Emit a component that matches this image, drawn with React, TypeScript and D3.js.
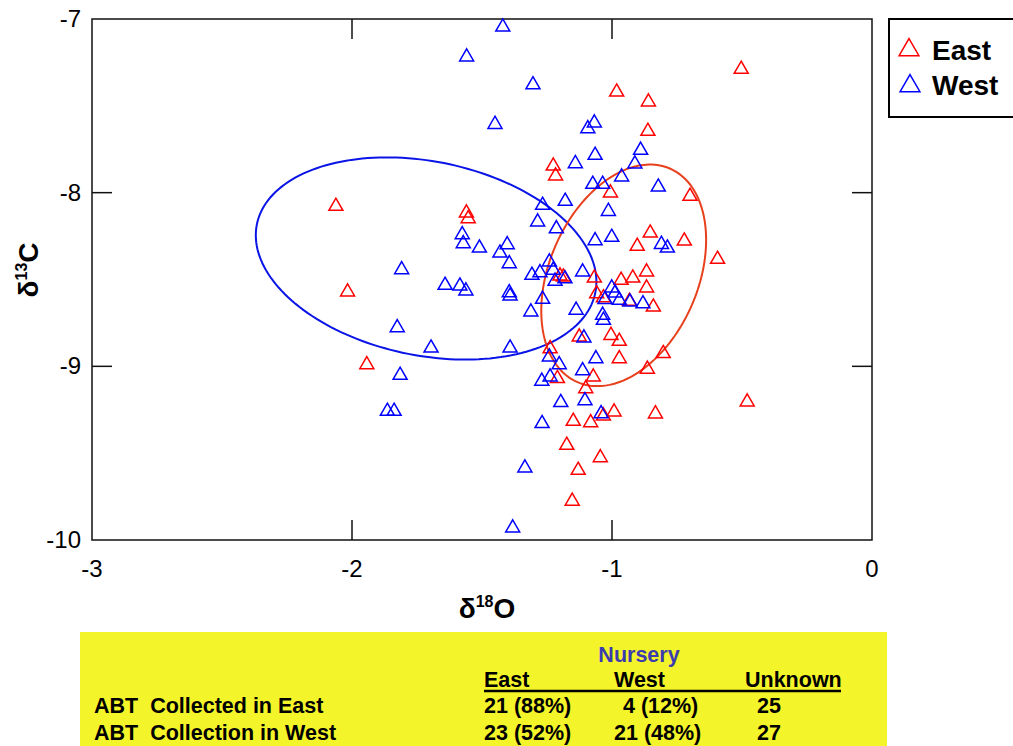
import React from "react";
import * as d3 from "d3";

// East (red) samples: [d18O, d13C]
const eastPoints: [number, number][] = [
  [-2.062, -8.067], [-1.560, -8.105], [-1.553, -8.138], [-2.017, -8.56], [-1.943, -8.979],
  [-0.982, -7.409], [-0.86, -7.466], [-0.503, -7.278], [-0.862, -7.635], [-1.226, -7.835],
  [-1.217, -7.892], [-1.006, -7.99], [-0.7, -8.009], [-0.853, -8.221], [-0.903, -8.297],
  [-0.722, -8.267], [-0.594, -8.372], [-1.2, -8.468], [-1.187, -8.474], [-1.068, -8.48],
  [-0.965, -8.493], [-0.92, -8.48], [-0.867, -8.445], [-0.867, -8.537], [-1.059, -8.57],
  [-1.033, -8.594], [-0.933, -8.614], [-0.841, -8.647], [-1.126, -8.819], [-1.004, -8.81],
  [-0.972, -8.844], [-0.972, -8.944], [-0.803, -8.915], [-0.864, -9.005], [-1.238, -8.887],
  [-1.21, -9.059], [-1.072, -9.049], [-1.101, -9.117], [-1.033, -9.274], [-0.992, -9.251],
  [-1.149, -9.305], [-1.082, -9.313], [-0.833, -9.262], [-0.48, -9.193], [-1.174, -9.443],
  [-1.045, -9.514], [-1.13, -9.587], [-1.153, -9.765],
];

// West (blue) samples
const westPoints: [number, number][] = [
  [-1.559, -7.207], [-1.42, -7.035], [-1.304, -7.367], [-1.45, -7.595], [-1.068, -7.587],
  [-1.093, -7.62], [-1.065, -7.773], [-0.89, -7.744], [-0.912, -7.823], [-1.141, -7.821],
  [-0.963, -7.898], [-1.074, -7.94], [-1.036, -7.94], [-0.822, -7.956], [-1.014, -8.096],
  [-1.18, -8.038], [-1.267, -8.061], [-1.286, -8.157], [-1.214, -8.196], [-1.576, -8.23],
  [-1.572, -8.282], [-1.51, -8.307], [-1.403, -8.288], [-1.431, -8.336], [-1.395, -8.397],
  [-1.065, -8.265], [-1.001, -8.245], [-0.81, -8.286], [-0.787, -8.307], [-1.809, -8.432],
  [-1.642, -8.522], [-1.585, -8.526], [-1.562, -8.554], [-1.395, -8.564], [-1.392, -8.583],
  [-1.308, -8.464], [-1.277, -8.449], [-1.241, -8.387], [-1.226, -8.435], [-1.219, -8.498],
  [-1.181, -8.484], [-1.113, -8.445], [-1.267, -8.602], [-1.312, -8.675], [-1.138, -8.665],
  [-1.001, -8.537], [-0.988, -8.566], [-1.027, -8.604], [-0.972, -8.608], [-0.931, -8.618],
  [-0.881, -8.628], [-1.036, -8.694], [-1.033, -8.723], [-1.108, -8.825], [-1.392, -8.883],
  [-1.826, -8.766], [-1.696, -8.883], [-1.815, -9.04], [-1.864, -9.247], [-1.838, -9.247],
  [-1.241, -8.934], [-1.203, -8.979], [-1.27, -9.074], [-1.238, -9.049], [-1.113, -9.013],
  [-1.062, -8.944], [-1.197, -9.197], [-1.104, -9.186], [-1.042, -9.261], [-1.269, -9.318],
  [-1.335, -9.573], [-1.382, -9.919],
];

// ellipses: centre, half extents, correlation
const eastEllipse = { cx: -0.955, cy: -8.476, rx: 0.317, ry: 0.638, rho: 0.32 };
const westEllipse = { cx: -1.715, cy: -8.379, rx: 0.655, ry: 0.582, rho: -0.23 };

const xTicks = [-3, -2, -1, 0];
const yTicks = [-7, -8, -9, -10];

const nurseryCols = ["East", "West", "Unknown"];
const rowLabels = ["ABT\u00a0\u00a0Collected in East", "ABT\u00a0\u00a0Collection in West"];
const eastCounts = ["21 (88%)", "23 (52%)"];
const westCounts = ["4 (12%)", "21 (48%)"];
const unknownCounts = ["25", "27"];

const RED = "#ff0000";
const BLUE = "#0000ff";
const FONT = "'Liberation Sans', Arial, sans-serif";

export default function App() {
  const left = 92, right = 872, top = 19, bottom = 540;
  const x = d3.scaleLinear().domain([-3, 0]).range([left, right]);
  const y = d3.scaleLinear().domain([-7, -10]).range([top, bottom]);

  const tri = d3.symbol(d3.symbolTriangle, 85)()!;
  const legendTri = d3.symbol(d3.symbolTriangle, 170)()!;

  const ellipsePath = (e: typeof eastEllipse) => {
    const ph = Math.acos(e.rho);
    const pts = d3.range(0, 2 * Math.PI, Math.PI / 90).map((t) => [
      x(e.cx + e.rx * Math.cos(t)),
      y(e.cy + e.ry * Math.cos(t - ph)),
    ] as [number, number]);
    return d3.line().curve(d3.curveLinearClosed)(pts)!;
  };

  const tickLen = 20;
  const colX = [484, 614, 745];

  return (
    <svg width={1013} height={746} style={{ position: "absolute", left: 0, top: 0 }} fontFamily={FONT}>
      <rect width={1013} height={746} fill="#fff" />

      {/* frame */}
      <rect x={left} y={top} width={right - left} height={bottom - top} fill="none" stroke="#111" strokeWidth={1.5} />

      {/* inward ticks on all sides */}
      {xTicks.slice(1, -1).map((t) => (
        <g key={"xt" + t} stroke="#111" strokeWidth={1.5}>
          <line x1={x(t)} x2={x(t)} y1={bottom} y2={bottom - tickLen} />
          <line x1={x(t)} x2={x(t)} y1={top} y2={top + tickLen} />
        </g>
      ))}
      {yTicks.slice(1, -1).map((t) => (
        <g key={"yt" + t} stroke="#111" strokeWidth={1.5}>
          <line x1={left} x2={left + tickLen} y1={y(t)} y2={y(t)} />
          <line x1={right} x2={right - tickLen} y1={y(t)} y2={y(t)} />
        </g>
      ))}

      {xTicks.map((t) => (
        <text key={"xl" + t} x={x(t)} y={bottom + 37} textAnchor="middle" fontSize={24}>
          {t}
        </text>
      ))}
      {yTicks.map((t) => (
        <text key={"yl" + t} x={left - 11} y={y(t) + 8} textAnchor="end" fontSize={24}>
          {t}
        </text>
      ))}

      {/* axis titles */}
      <text x={487} y={618} textAnchor="middle" fontSize={28} fontWeight="bold">
        δ<tspan fontSize={16} dy={-11}>18</tspan><tspan dy={11}>O</tspan>
      </text>
      <text transform="translate(38,270) rotate(-90)" textAnchor="middle" fontSize={28} fontWeight="bold">
        δ<tspan fontSize={16} dy={-11}>13</tspan><tspan dy={11}>C</tspan>
      </text>

      {/* ellipses */}
      <path d={ellipsePath(westEllipse)} fill="none" stroke="#0a14e6" strokeWidth={2} />
      <path d={ellipsePath(eastEllipse)} fill="none" stroke="#e8401c" strokeWidth={2} />

      {/* points */}
      {eastPoints.map((p, i) => (
        <path key={"e" + i} d={tri} transform={`translate(${x(p[0])},${y(p[1]) + 2})`} fill="none" stroke={RED} strokeWidth={1.5} />
      ))}
      {westPoints.map((p, i) => (
        <path key={"w" + i} d={tri} transform={`translate(${x(p[0])},${y(p[1]) + 2})`} fill="none" stroke={BLUE} strokeWidth={1.5} />
      ))}

      {/* legend */}
      <rect x={889} y={19} width={140} height={98} fill="#fff" stroke="#000" strokeWidth={2} />
      <path d={legendTri} transform="translate(909,50)" fill="none" stroke={RED} strokeWidth={1.5} />
      <path d={legendTri} transform="translate(910,86)" fill="none" stroke={BLUE} strokeWidth={1.5} />
      <text x={932} y={60} fontSize={28} fontWeight="bold">East</text>
      <text x={932} y={95} fontSize={28} fontWeight="bold">West</text>

      {/* nursery table */}
      <rect x={80} y={632} width={807} height={120} fill="#f4f42a" />
      <g fontWeight="bold" fontSize={21.5}>
        <text x={639} y={662} textAnchor="middle" fill="#3c3cb0">Nursery</text>
        {nurseryCols.map((c, i) => (
          <text key={c} x={colX[i]} y={687}>{c}</text>
        ))}
        <line x1={484} x2={841} y1={691} y2={691} stroke="#000" strokeWidth={2.5} />
        {rowLabels.map((r, i) => (
          <g key={r}>
            <text x={94} y={713 + i * 27}>{r}</text>
            <text x={484} y={713 + i * 27}>{eastCounts[i]}</text>
            <text x={i === 0 ? 623 : 614} y={713 + i * 27}>{westCounts[i]}</text>
            <text x={757} y={713 + i * 27}>{unknownCounts[i]}</text>
          </g>
        ))}
      </g>
    </svg>
  );
}
